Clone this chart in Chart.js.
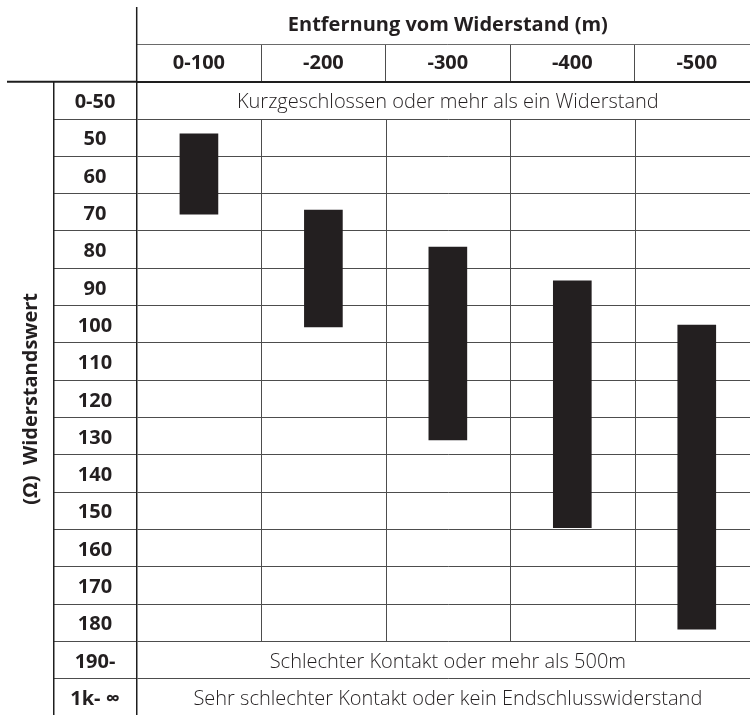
<!DOCTYPE html>
<html lang="de">
<head>
<meta charset="utf-8">
<title>Widerstandswert und Entfernung</title>
<script src="https://cdn.jsdelivr.net/npm/chart.js@4.4.1/dist/chart.umd.min.js"></script>
<style>
  html, body { margin: 0; padding: 0; overflow: hidden; background: #fff; }
  #wrap { width: 760px; height: 716px; }
</style>
</head>
<body>
<div id="wrap"><canvas id="tafel"></canvas></div>
<script>
// Spalten: Entfernung vom Widerstand
const entfernungen = ['0-100', '-200', '-300', '-400', '-500'];
// Zeilen: Widerstandswert (Ohm)
const widerstandsZeilen = ['0-50', '50', '60', '70', '80', '90', '100', '110', '120',
  '130', '140', '150', '160', '170', '180', '190-', '1k- \u221E'];
// Messbereich je Entfernung (von / bis)
const bereichVon = [49, 69.4, 79.3, 88.4, 100.2];
const bereichBis = [70.5, 100.7, 131, 154.5, 181.7];
// Zeilen, die über alle Spalten gehen
const hinweisZeilen = [0, 15, 16];
const hinweise = [
  'Kurzgeschlossen oder mehr als ein Widerstand',
  'Schlechter Kontakt oder mehr als 500m',
  'Sehr schlechter Kontakt oder kein Endschlusswiderstand'
];

const schrift = '"Open Sans", "Noto Sans", sans-serif';
const dunkel = '#231f20';
const linie = '#4d4d4d';
const rahmen = '#1e1e1e';

// jede Zeile ist 10 Einheiten hoch, Mitte bei 40, 50, 60 ...
const zeileMitte = i => 40 + 10 * i;
const grenzeMin = 35;
const grenzeMax = 35 + 10 * widerstandsZeilen.length;
const istGrenze = v => (v - grenzeMin) % 10 === 0;

// Beschriftungen der Zeilen mittig in ihre Spalte setzen
const mess = document.createElement('canvas').getContext('2d');
mess.font = 'bold 20px ' + schrift;
const breiteste = Math.max(...widerstandsZeilen.map(t => mess.measureText(t).width));
const zeilenSpalte = 83.4;

const tabellenLinien = {
  id: 'tabellenLinien',
  beforeDatasetsDraw(chart) {
    const {ctx, chartArea, scales: {x, y, yt}} = chart;
    ctx.save();
    ctx.lineWidth = 1;
    ctx.strokeStyle = linie;
    // Spaltentrenner nur in den Zeilen 50 bis 180
    const oben = y.getPixelForValue(zeileMitte(1) - 5);
    const unten = y.getPixelForValue(zeileMitte(14) + 5);
    for (let i = 0; i < entfernungen.length - 1; i++) {
      const px = Math.round((x.getPixelForValue(i) + x.getPixelForValue(i + 1)) / 2) + 0.5;
      ctx.beginPath();
      ctx.moveTo(px, oben);
      ctx.lineTo(px, unten);
      ctx.stroke();
    }
    // Linie unter der Kopfzeile
    const kopf = Math.round(x.bottom - x.options.grid.tickLength) + 0.5;
    ctx.strokeStyle = '#6a6a6a';
    ctx.beginPath();
    ctx.moveTo(chartArea.left, kopf);
    ctx.lineTo(chartArea.right, kopf);
    ctx.stroke();
    // linker Rahmen bis nach oben, obere Linie bis nach links
    ctx.strokeStyle = rahmen;
    ctx.lineWidth = 1.5;
    ctx.beginPath();
    ctx.moveTo(chartArea.left, x.top + 7);
    ctx.lineTo(chartArea.left, chartArea.top);
    ctx.stroke();
    ctx.lineWidth = 2;
    ctx.beginPath();
    ctx.moveTo(yt.left + 7, chartArea.top);
    ctx.lineTo(chartArea.left, chartArea.top);
    ctx.stroke();
    // Hinweistexte über die ganze Breite
    ctx.fillStyle = dunkel;
    ctx.font = '300 20px ' + schrift;
    ctx.textAlign = 'center';
    ctx.textBaseline = 'middle';
    const mitte = (chartArea.left + chartArea.right) / 2;
    hinweise.forEach((text, k) => {
      ctx.fillText(text, mitte, y.getPixelForValue(zeileMitte(hinweisZeilen[k])) + 2);
    });
    ctx.restore();
  }
};

new Chart(document.getElementById('tafel'), {
  type: 'bar',
  data: {
    labels: entfernungen,
    datasets: [{
      data: entfernungen.map((_, i) => [bereichVon[i], bereichBis[i]]),
      backgroundColor: dunkel,
      borderWidth: 0,
      borderSkipped: false,
      barThickness: 38,
      xAxisID: 'x',
      yAxisID: 'y'
    }]
  },
  options: {
    responsive: true,
    maintainAspectRatio: false,
    animation: false,
    events: [],
    layout: { padding: { top: 0, left: 0, right: 1, bottom: 0 } },
    plugins: { legend: { display: false }, tooltip: { enabled: false } },
    scales: {
      x: {
        position: 'top',
        offset: true,
        grid: { offset: true, drawOnChartArea: false, tickLength: 37.7, color: linie },
        border: { display: true, color: rahmen, width: 2 },
        ticks: {
          color: dunkel,
          font: { family: schrift, size: 20, weight: 'bold' },
          padding: -31.4,
          maxRotation: 0,
          autoSkip: false
        },
        title: {
          display: true,
          text: 'Entfernung vom Widerstand (m)',
          color: dunkel,
          font: { family: schrift, size: 20, weight: 'bold' },
          padding: { top: 13.4, bottom: 0 }
        },
        afterFit(scale) { scale.height = 81.7; }
      },
      y: {
        position: 'left',
        weight: 0,
        reverse: true,
        min: grenzeMin,
        max: grenzeMax,
        afterBuildTicks(scale) {
          const t = [];
          for (let i = 0; i <= widerstandsZeilen.length; i++) {
            t.push({ value: grenzeMin + 10 * i });
            if (i < widerstandsZeilen.length) t.push({ value: zeileMitte(i) });
          }
          scale.ticks = t;
        },
        grid: {
          color: c => (c.tick && istGrenze(c.tick.value)) ? linie : 'rgba(0,0,0,0)',
          tickLength: zeilenSpalte
        },
        border: { display: true, color: rahmen, width: 1.5 },
        ticks: {
          autoSkip: false,
          color: dunkel,
          font: { family: schrift, size: 20, weight: 'bold' },
          crossAlign: 'center',
          padding: -zeilenSpalte / 2 - breiteste / 2,
          labelOffset: 2,
          callback: v => istGrenze(v) ? '' : widerstandsZeilen[(v - 40) / 10]
        },
        afterFit(scale) { scale.width = zeilenSpalte; }
      },
      yt: {
        type: 'linear',
        position: 'left',
        weight: 1,
        grid: { drawOnChartArea: false, drawTicks: false },
        border: { display: true, color: rahmen, width: 1.5 },
        ticks: { display: false },
        title: {
          display: true,
          text: '(\u03A9)  Widerstandswert',
          color: dunkel,
          font: { family: schrift, size: 20, weight: 'bold' },
          padding: { top: 19.5, bottom: 0 }
        },
        afterFit(scale) { scale.width = 53.3; }
      }
    }
  },
  plugins: [tabellenLinien]
});
</script>
</body>
</html>
